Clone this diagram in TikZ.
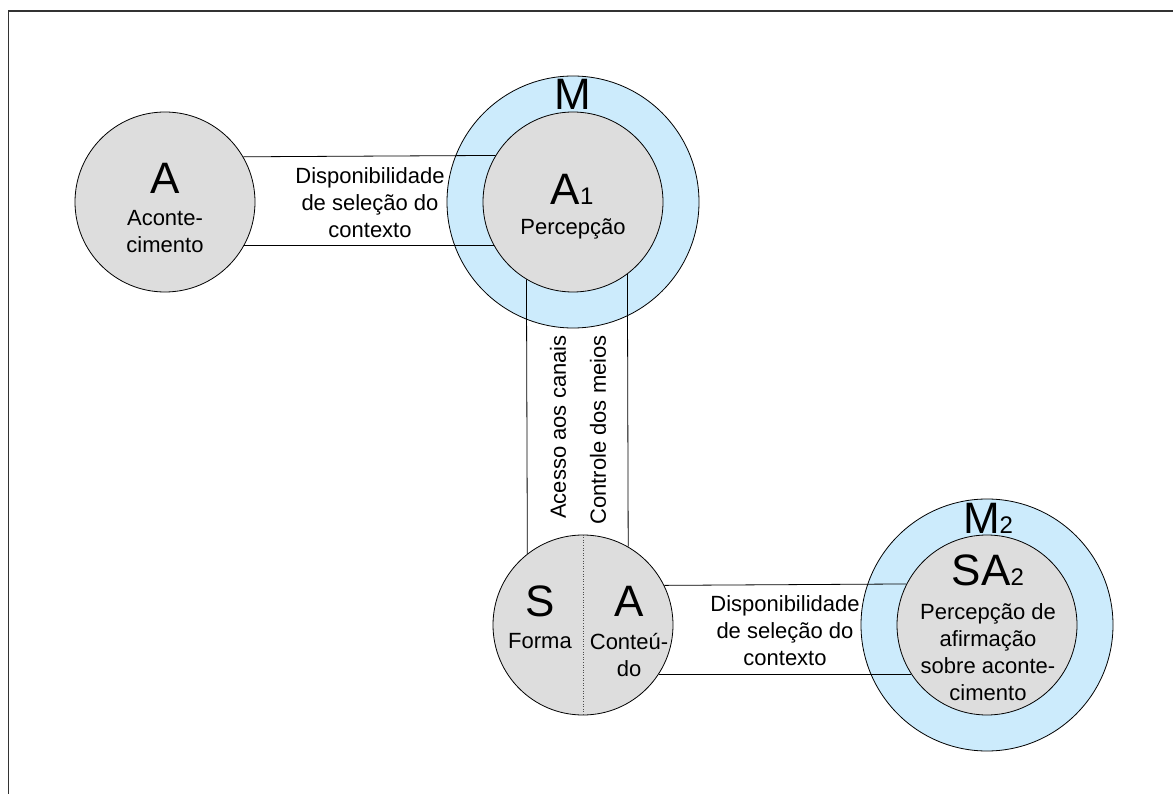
\documentclass[tikz,border=0pt]{standalone}
\usepackage{fontspec}
\setmainfont{Liberation Sans}
\usetikzlibrary{
    calc,
    shapes,
}
\definecolor{ringblue}{HTML}{CCEBFC}
\definecolor{circgray}{HTML}{DDDDDD}

\begin{document}
\begin{tikzpicture}[x=1pt, y=-1pt, line width=0.8pt,
    main/.style = {draw, circle, fill=circgray, inner sep=0pt, minimum size=180pt},
    ring/.style = {draw, circle, fill=ringblue, inner sep=0pt, minimum size=252pt},
    big/.style = {font=\fontsize{44}{48}\selectfont, inner sep=0pt},
    txt/.style = {font=\fontsize{22}{27}\selectfont, align=center, inner sep=0pt}]
    \useasboundingbox (0,0) rectangle (1173,794);
    \draw[line width=1.3pt, black!80] (8.5,794) -- (8.5,11) -- (1173,11);
    % circles
    \node[ring] (M) at (573,202) {};
    \node[ring] (M2) at (987,625) {};
    \node[main] (A) at (165,202) {};
    \node[main] (A1) at (573,202) {};
    \node[main] (SA) at (583,625) {};
    \node[main] (SA2) at (987,625) {};
    \draw[dotted, line width=0.6pt, black!70] (SA.north) -- (SA.south);
    % connectors
    \draw (A.30.7) -- (A1.149.3);
    \draw (A.-29.3) -- (A1.209.3);
    \draw (A1.239.3) -- (SA.128.5);
    \draw (A1.-53.1) -- (SA.60.7);
    \draw (SA.26.4) -- (SA2.153.6);
    \draw (SA.-33) -- (SA2.213);
    % labels
    \node[big] (Al) at (165,178) {A};
    \node[txt] (Atxt) at (165,232) {Aconte-\\cimento};
    \node[big] (Ml) at (573,94) {M};
    \node[big] (A1l) at (572,189) {A{\fontsize{24}{28}\selectfont 1}};
    \node[txt] (A1txt) at (573,229) {Percepção};
    \node[txt] (ctx1) at (370,203) {Disponibilidade\\de seleção do\\contexto};
    \node[txt, rotate=90] (canais) at (558,427) {Acesso aos canais};
    \node[txt, rotate=90] (meios) at (598,430) {Controle dos meios};
    \node[big] (Sl) at (540,601) {S};
    \node[big] (SAl) at (629,601) {A};
    \node[txt] (forma) at (540,641) {Forma};
    \node[txt] (conteudo) at (629,655) {Conteú-\\do};
    \node[txt] (ctx2) at (785,631) {Disponibilidade\\de seleção do\\contexto};
    \node[big] (M2l) at (988,518) {M{\fontsize{24}{28}\selectfont 2}};
    \node[big] (SA2l) at (988,570) {SA{\fontsize{24}{28}\selectfont 2}};
    \node[txt] (SA2txt) at (988,652) {Percepção de\\afirmação\\sobre aconte-\\cimento};
\end{tikzpicture}
\end{document}
